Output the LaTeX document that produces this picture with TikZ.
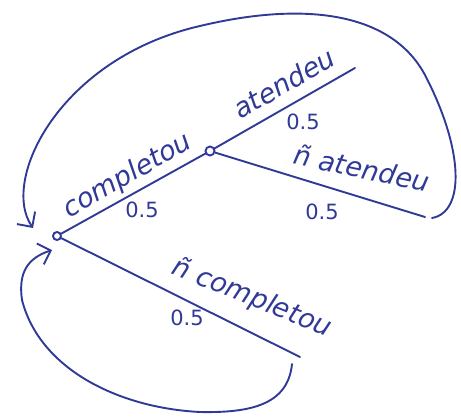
\documentclass[tikz,border=0pt]{standalone}
\usepackage{fontspec}
\setmainfont{DejaVu Sans}
\usetikzlibrary{arrows.meta}
\definecolor{ink}{RGB}{48,58,150}
\tikzset{
  pen/.style={draw=ink,line width=1.9pt,line cap=round},
  vert/.style={draw=ink,circle,fill=white,line width=1.9pt,inner sep=0pt,minimum size=8pt},
  hand/.style={text=ink,font=\fontsize{27}{30}\selectfont\itshape,inner sep=1pt},
  prob/.style={text=ink,font=\fontsize{21}{24}\selectfont,inner sep=1pt},
  back/.style={pen,-{Straight Barb[length=11pt,width=22pt]}},
}
\begin{document}
\begin{tikzpicture}[x=1pt,y=-1pt]
  \useasboundingbox (0,0) rectangle (461,416);
  \node[vert] (root) at (57,236) {};
  \node[vert,minimum size=9pt] (comp) at (210,151) {};
  \coordinate (att) at (355,68);
  \coordinate (natt) at (425,217);
  \coordinate (ncomp) at (300,357);
  \coordinate (backA) at (432,218);
  \coordinate (tipA) at (33,228);
  \coordinate (backB) at (292,364);
  \coordinate (tipB) at (52,250);
  \draw[pen] (root) -- (comp);
  \draw[pen] (comp) -- (att);
  \draw[pen] (comp) -- (natt);
  \draw[pen] (root) -- (ncomp);
  \draw[back] (backA) .. controls (465,212) and (464,150) .. (425,75)
    .. controls (390,10) and (300,2) .. (200,26)
    .. controls (60,58) and (0,180) .. (tipA);
  \draw[back] (backB) .. controls (288,405) and (250,413) .. (200,412)
    .. controls (120,408) and (40,370) .. (22,300)
    .. controls (18,272) and (28,258) .. (tipB);
  \node[hand,rotate=30] (lcomp) at (128,176) {completou};
  \node[prob] (pcomp) at (142,210) {0.5};
  \node[hand,rotate=30] (latt) at (284,83) {atendeu};
  \node[prob] (patt) at (303,122) {0.5};
  \node[hand,rotate=-12] (lnatt) at (362,168) {ñ atendeu};
  \node[prob] (pnatt) at (322,212) {0.5};
  \node[hand,rotate=-22] (lncomp) at (252,298) {ñ completou};
  \node[prob] (pncomp) at (187,318) {0.5};
\end{tikzpicture}
\end{document}
